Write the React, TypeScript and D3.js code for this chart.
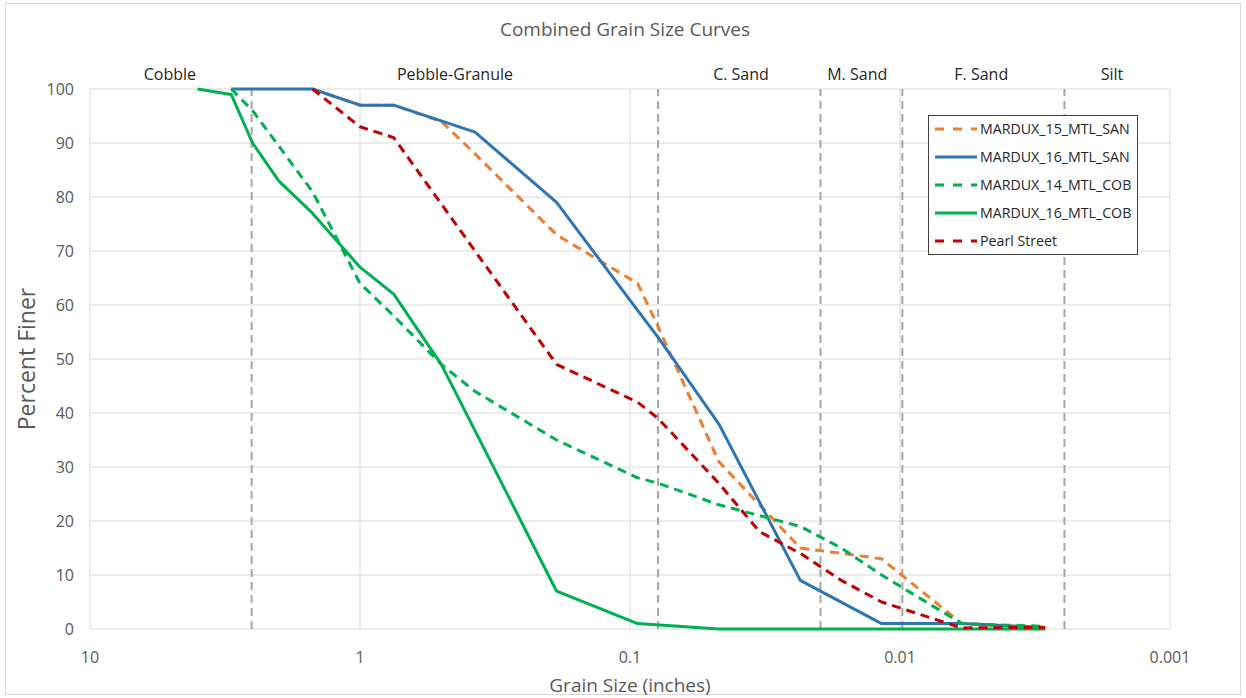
import { useEffect, useRef } from 'react'
import * as d3 from 'd3'

// grain sizes in inches (sieve openings) and percent finer, per sample
const san15Sizes = [1.5, 1, 0.75, 0.5, 0.375, 0.187, 0.0937, 0.0787, 0.0469, 0.0234, 0.0165, 0.0117, 0.0059, 0.0029]
const san15Finer = [100, 97, 97, 94, 88, 73, 64, 56, 31, 15, 14, 13, 1, 0.2]

const san16Sizes = [3, 2, 1.5, 1, 0.75, 0.375, 0.187, 0.0937, 0.0787, 0.0469, 0.0234, 0.0117, 0.0059, 0.0029]
const san16Finer = [100, 100, 100, 97, 97, 92, 79, 59, 54, 38, 9, 1, 1, 0.3]

const cob14Sizes = [3, 2.5, 1.5, 1, 0.75, 0.5, 0.375, 0.187, 0.0937, 0.0787, 0.0469, 0.0234, 0.0165, 0.0117, 0.0059, 0.0029]
const cob14Finer = [100, 96, 81, 64, 58, 49, 44, 35, 28, 27, 23, 19, 15, 10, 1, 0.5]

const cob16Sizes = [4, 3, 2.5, 2, 1.5, 1, 0.75, 0.5, 0.187, 0.0937, 0.0469, 0.0234, 0.0165, 0.0117, 0.0059, 0.0029]
const cob16Finer = [100, 99, 90, 83, 77, 67, 62, 49, 7, 1, 0, 0, 0, 0, 0, 0]

const pearlSizes = [1.5, 1, 0.75, 0.375, 0.187, 0.0937, 0.0787, 0.0469, 0.0331, 0.0234, 0.0165, 0.0117, 0.0059, 0.0029]
const pearlFiner = [100, 93, 91, 70, 49, 42, 39, 27, 18, 14, 9, 5, 0.2, 0.3]

// class boundaries (inches) and zone labels
const boundaries = [2.52, 0.0787, 0.0197, 0.0098, 0.00246]
const zoneNames = ['Cobble', 'Pebble-Granule', 'C. Sand', 'M. Sand', 'F. Sand', 'Silt']
const zoneCenters = [5.06, 0.445, 0.0388, 0.0144, 0.005, 0.00164]

const xTicks = [10, 1, 0.1, 0.01, 0.001]
const yTicks = [0, 10, 20, 30, 40, 50, 60, 70, 80, 90, 100]

const series = [
  { name: 'MARDUX_15_MTL_SAN', sizes: san15Sizes, finer: san15Finer, color: '#ED7D31', dashed: true },
  { name: 'MARDUX_16_MTL_SAN', sizes: san16Sizes, finer: san16Finer, color: '#2E75B6', dashed: false },
  { name: 'MARDUX_14_MTL_COB', sizes: cob14Sizes, finer: cob14Finer, color: '#00B050', dashed: true },
  { name: 'MARDUX_16_MTL_COB', sizes: cob16Sizes, finer: cob16Finer, color: '#00B050', dashed: false },
  { name: 'Pearl Street', sizes: pearlSizes, finer: pearlFiner, color: '#C00000', dashed: true },
]

export default function App() {
  const svgRef = useRef<SVGSVGElement>(null)

  useEffect(() => {
    if (!svgRef.current) return
    const svg = d3.select(svgRef.current)
    svg.selectAll('*').remove()

    const width = 1246
    const height = 698
    const m = { left: 90, right: 76, top: 89, bottom: 69 }
    const font = '"Open Sans", sans-serif'

    const x = d3.scaleLog().domain([10, 0.001]).range([m.left, width - m.right])
    const y = d3.scaleLinear().domain([0, 100]).range([height - m.bottom, m.top])

    svg.append('rect')
      .attr('x', 5.5).attr('y', 3.5).attr('width', width - 11).attr('height', height - 7)
      .attr('fill', '#fff').attr('stroke', '#d9d9d9')

    // grid
    svg.append('g')
      .selectAll('line')
      .data(yTicks)
      .join('line')
      .attr('x1', m.left).attr('x2', width - m.right)
      .attr('y1', d => y(d)).attr('y2', d => y(d))
      .attr('stroke', '#d9d9d9').attr('stroke-width', 1)

    svg.append('g')
      .selectAll('line')
      .data(xTicks)
      .join('line')
      .attr('x1', d => x(d)).attr('x2', d => x(d))
      .attr('y1', y(0)).attr('y2', y(100))
      .attr('stroke', '#d9d9d9').attr('stroke-width', 1)

    // class boundaries
    svg.append('g')
      .selectAll('line')
      .data(boundaries)
      .join('line')
      .attr('x1', d => x(d)).attr('x2', d => x(d))
      .attr('y1', y(0)).attr('y2', y(100))
      .attr('stroke', '#a6a6a6').attr('stroke-width', 2)
      .attr('stroke-dasharray', '8,5')

    // tick labels
    svg.append('g')
      .selectAll('text')
      .data(yTicks)
      .join('text')
      .attr('x', m.left - 16).attr('y', d => y(d))
      .attr('dy', '0.35em').attr('text-anchor', 'end')
      .attr('font-family', font).attr('font-size', 16).attr('fill', '#595959')
      .text(d => d)

    svg.append('g')
      .selectAll('text')
      .data(xTicks)
      .join('text')
      .attr('x', d => x(d)).attr('y', y(0) + 34)
      .attr('text-anchor', 'middle')
      .attr('font-family', font).attr('font-size', 16).attr('fill', '#595959')
      .text(d => String(d))

    // zone labels
    svg.append('g')
      .selectAll('text')
      .data(zoneNames)
      .join('text')
      .attr('x', (_, i) => x(zoneCenters[i])).attr('y', 80)
      .attr('text-anchor', 'middle')
      .attr('font-family', font).attr('font-size', 16).attr('fill', '#262626')
      .text(d => d)

    // titles
    svg.append('text')
      .attr('x', 625).attr('y', 36).attr('text-anchor', 'middle')
      .attr('font-family', font).attr('font-size', 19).attr('fill', '#595959')
      .text('Combined Grain Size Curves')

    svg.append('text')
      .attr('x', 630).attr('y', 692).attr('text-anchor', 'middle')
      .attr('font-family', font).attr('font-size', 19).attr('fill', '#595959')
      .text('Grain Size (inches)')

    svg.append('text')
      .attr('transform', `translate(35, ${(y(0) + y(100)) / 2}) rotate(-90)`)
      .attr('text-anchor', 'middle')
      .attr('font-family', font).attr('font-size', 23).attr('fill', '#595959')
      .text('Percent Finer')

    // series
    const line = d3.line<[number, number]>()
      .x(d => x(d[0]))
      .y(d => y(d[1]))

    series.forEach(s => {
      const pts = s.sizes.map((v, i) => [v, s.finer[i]] as [number, number])
      svg.append('path')
        .datum(pts)
        .attr('d', line)
        .attr('fill', 'none')
        .attr('stroke', s.color)
        .attr('stroke-width', 3)
        .attr('stroke-linejoin', 'round')
        .attr('stroke-dasharray', s.dashed ? '9,6' : null)
    })

    // legend
    const lg = svg.append('g').attr('transform', 'translate(928, 115)')
    lg.append('rect')
      .attr('x', 0.5).attr('y', 0.5).attr('width', 209).attr('height', 139)
      .attr('fill', '#fff').attr('stroke', '#404040').attr('stroke-width', 1)

    const items = lg.selectAll('g.item')
      .data(series)
      .join('g')
      .attr('class', 'item')
      .attr('transform', (_, i) => `translate(0, ${14 + i * 28})`)

    items.append('line')
      .attr('x1', 7).attr('x2', 49).attr('y1', 0).attr('y2', 0)
      .attr('stroke', d => d.color).attr('stroke-width', 3)
      .attr('stroke-dasharray', d => (d.dashed ? '9,9' : null))

    items.append('text')
      .attr('x', 52).attr('y', 0).attr('dy', '0.35em')
      .attr('font-family', font).attr('font-size', 14.2).attr('fill', '#262626')
      .text(d => d.name)
  }, [])

  return (
    <svg
      ref={svgRef}
      width={1246}
      height={698}
      style={{ position: 'absolute', left: 0, top: 0, background: '#fff' }}
    />
  )
}
